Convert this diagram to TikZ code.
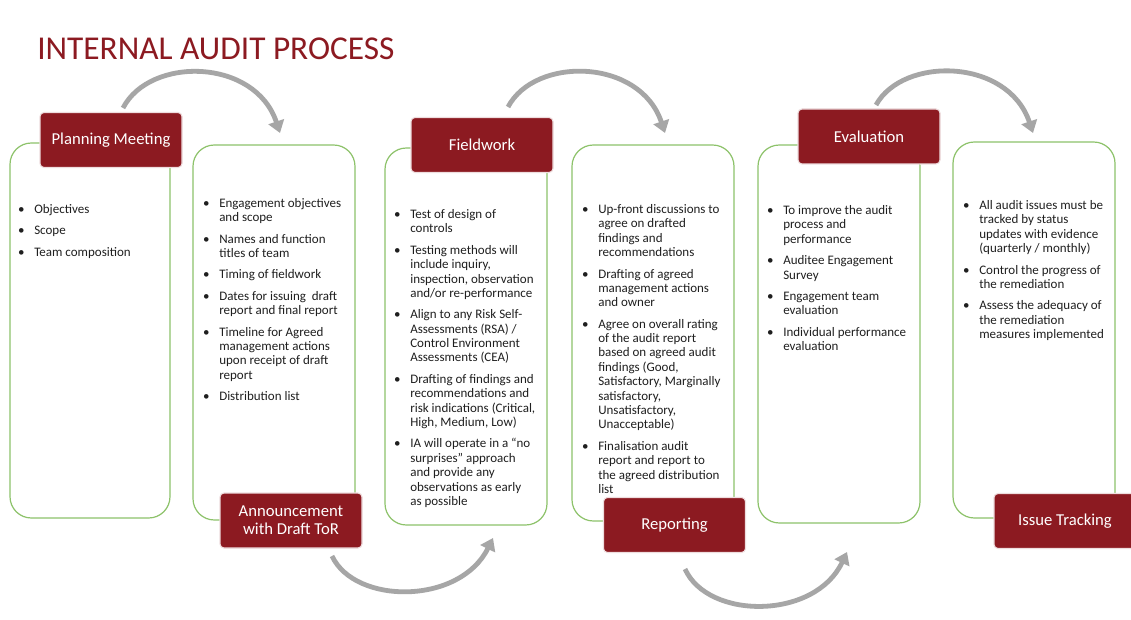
\documentclass[tikz,border=0pt]{standalone}
\usepackage{fontspec}
\setmainfont{Carlito}
\usepackage{xcolor}
\usetikzlibrary{arrows.meta}

\definecolor{auditred}{HTML}{8C1A21}
\definecolor{panelgreen}{HTML}{8DC26A}
\definecolor{arrowgray}{HTML}{A6A6A6}

\newcommand{\bul}{\makebox[9.75pt][l]{\makebox[0pt]{\textbullet}}}

\tikzset{
  panel/.style={draw=panelgreen, line width=0.9pt, rounded corners=16pt},
  stage/.style={fill=auditred, draw=white!85!auditred, line width=0.8pt,
    rounded corners=3pt, text=white, minimum width=106.5pt,
    minimum height=41.25pt, inner sep=2pt, align=center,
    font=\fontsize{12.5}{13.5}\selectfont},
  points/.style={anchor=base west, inner sep=0pt, text=black!88,
    font=\fontsize{9.75}{10.8}\selectfont},
  flow/.style={draw=arrowgray, line width=3.6pt,
    -{Triangle[length=9pt,width=12pt]}}
}

\begin{document}
\begin{tikzpicture}[x=0.75pt, y=0.75pt]
  \useasboundingbox[fill=white] (0,0) rectangle (1131,-620);
  \node (title) [anchor=base west, inner sep=0pt, text=auditred,
    font=\fontsize{25}{30}\selectfont] at (37,-60) {INTERNAL AUDIT PROCESS};

  % green panels
  \draw[panel] (10,-143) rectangle (170,-518);
  \draw[panel] (193,-145) rectangle (355,-520);
  \draw[panel] (385,-148) rectangle (547,-525);
  \draw[panel] (572,-145) rectangle (734,-521);
  \draw[panel] (758,-145) rectangle (920,-523);
  \draw[panel] (953,-142) rectangle (1115,-518);

  % stage boxes
  \node (plan) [stage] at (111,-140) {Planning Meeting};
  \node (announce) [stage] at (291,-520.5) {Announcement\\with Draft ToR};
  \node (field) [stage] at (482,-145) {Fieldwork};
  \node (report) [stage] at (674.5,-525) {Reporting};
  \node (eval) [stage] at (869,-136.5) {Evaluation};
  \node (track) [stage] at (1065,-521) {Issue Tracking};

  % bullet points
  \node (plan-pts) [points] at (21,-213.5) {\begin{tabular}[t]{@{}l@{}l@{}}
    \bul & Objectives\\[5.2pt]
    \bul & Scope\\[5.2pt]
    \bul & Team composition
  \end{tabular}};
  \node (announce-pts) [points] at (206,-207.5) {\begin{tabular}[t]{@{}l@{}l@{}}
    \bul & Engagement objectives\\
         & and scope\\[5.2pt]
    \bul & Names and function\\
         & titles of team\\[5.2pt]
    \bul & Timing of fieldwork\\[5.2pt]
    \bul & Dates for issuing\ \ draft\\
         & report and final report\\[5.2pt]
    \bul & Timeline for Agreed\\
         & management actions\\
         & upon receipt of draft\\
         & report\\[5.2pt]
    \bul & Distribution list
  \end{tabular}};
  \node (field-pts) [points] at (397,-218.5) {\begin{tabular}[t]{@{}l@{}l@{}}
    \bul & Test of design of\\
         & controls\\[5.2pt]
    \bul & Testing methods will\\
         & include inquiry,\\
         & inspection, observation\\
         & and/or re-performance\\[5.2pt]
    \bul & Align to any Risk Self-\\
         & Assessments (RSA) /\\
         & Control Environment\\
         & Assessments (CEA)\\[5.2pt]
    \bul & Drafting of findings and\\
         & recommendations and\\
         & risk indications (Critical,\\
         & High, Medium, Low)\\[5.2pt]
    \bul & IA will operate in a “no\\
         & surprises” approach\\
         & and provide any\\
         & observations as early\\
         & as possible
  \end{tabular}};
  \node (report-pts) [points] at (585,-213.5) {\begin{tabular}[t]{@{}l@{}l@{}}
    \bul & Up-front discussions to\\
         & agree on drafted\\
         & findings and\\
         & recommendations\\[5.2pt]
    \bul & Drafting of agreed\\
         & management actions\\
         & and owner\\[5.2pt]
    \bul & Agree on overall rating\\
         & of the audit report\\
         & based on agreed audit\\
         & findings (Good,\\
         & Satisfactory, Marginally\\
         & satisfactory,\\
         & Unsatisfactory,\\
         & Unacceptable)\\[5.2pt]
    \bul & Finalisation audit\\
         & report and report to\\
         & the agreed distribution\\
         & list
  \end{tabular}};
  \node (eval-pts) [points] at (770,-214.5) {\begin{tabular}[t]{@{}l@{}l@{}}
    \bul & To improve the audit\\
         & process and\\
         & performance\\[5.2pt]
    \bul & Auditee Engagement\\
         & Survey\\[5.2pt]
    \bul & Engagement team\\
         & evaluation\\[5.2pt]
    \bul & Individual performance\\
         & evaluation
  \end{tabular}};
  \node (track-pts) [points] at (966,-209.5) {\begin{tabular}[t]{@{}l@{}l@{}}
    \bul & All audit issues must be\\
         & tracked by status\\
         & updates with evidence\\
         & (quarterly / monthly)\\[5.2pt]
    \bul & Control the progress of\\
         & the remediation\\[5.2pt]
    \bul & Assess the adequacy of\\
         & the remediation\\
         & measures implemented
  \end{tabular}};

  % flow arrows between stages
  \coordinate (plan-out) at (123,-108);
  \coordinate (announce-in) at (280,-133);
  \coordinate (announce-out) at (332,-556);
  \coordinate (field-in) at (493,-538);
  \coordinate (field-out) at (508,-107);
  \coordinate (report-in) at (665,-133);
  \coordinate (report-out) at (685,-569);
  \coordinate (eval-in) at (847,-552);
  \coordinate (eval-out) at (876,-105);
  \coordinate (track-in) at (1033,-133);
  \draw[flow] (plan-out) .. controls (150,-56) and (255,-58) .. (announce-in);
  \draw[flow] (announce-out) .. controls (355,-605) and (460,-605) .. (field-in);
  \draw[flow] (field-out) .. controls (535,-56) and (640,-58) .. (report-in);
  \draw[flow] (report-out) .. controls (708,-620) and (815,-620) .. (eval-in);
  \draw[flow] (eval-out) .. controls (903,-56) and (1008,-58) .. (track-in);
\end{tikzpicture}
\end{document}
